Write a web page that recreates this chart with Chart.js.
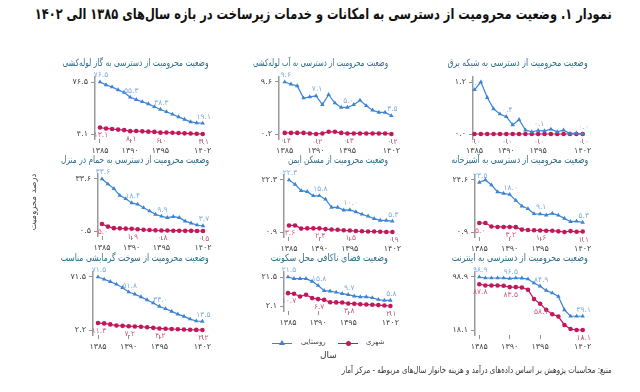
<!DOCTYPE html>
<html lang="fa">
<head>
<meta charset="utf-8">
<script src="https://cdn.jsdelivr.net/npm/chart.js@4.4.0/dist/chart.umd.min.js"></script>
<style>
  body { margin: 0; width: 640px; height: 392px; background: #fff; position: relative; overflow: hidden; font-family: "DejaVu Sans", sans-serif; }
  canvas { position: absolute; }
  .txt { position: absolute; white-space: nowrap; direction: rtl; }
  .ptitle { color: #2b6c86; font-size: 10px; }
  .leg-line { position: absolute; height: 1.3px; width: 20px; }
</style>
</head>
<body>
<div id="root"></div>
<script>
// years and labelled points
const years = [1385, 1386, 1387, 1388, 1389, 1390, 1391, 1392, 1393, 1394, 1395, 1396, 1397, 1398, 1399, 1400, 1401, 1402];
const xTickYears = [1385, 1390, 1395, 1402];
const labelIdx = [0, 5, 10, 17];

// series values (percent deprived), rural / urban
const elecRural = [1.02, 1.2, 0.84, 0.58, 0.46, 0.4, 0.21, 0.33, 0.09, 0.05, 0.08, 0.07, 0.11, 0.05, 0.09, 0.01, 0.02, 0.0];
const elecUrban = [0.0, 0.0, 0.0, 0.0, 0.0, 0.0, 0.0, 0.0, 0.0, 0.0, 0.0, 0.0, 0.0, 0.0, 0.0, 0.0, 0.0, 0.0];
const waterRural = [9.6, 9.2, 8.9, 6.7, 6.9, 7.1, 5.5, 7.3, 5.8, 5.0, 5.0, 5.5, 6.3, 5.3, 4.5, 4.1, 4.1, 3.5];
const waterUrban = [0.4, 0.4, 0.4, 0.4, 0.3, 0.2, 0.3, 0.6, 0.6, 0.4, 0.3, 0.3, 0.3, 0.3, 0.3, 0.3, 0.3, 0.2];
const gasRural = [76.5, 72.5, 69.5, 65.5, 62.0, 55.3, 52.0, 49.0, 46.0, 42.0, 38.3, 35.0, 31.5, 28.0, 24.5, 21.0, 19.5, 19.1];
const gasUrban = [13.1, 11.8, 11.0, 10.2, 9.5, 8.1, 8.3, 7.8, 7.4, 7.0, 6.0, 6.2, 5.8, 5.4, 5.0, 4.7, 4.4, 4.1];
const kitchenRural = [23.5, 24.6, 22.3, 19.2, 18.5, 18.0, 15.3, 12.7, 11.5, 9.2, 9.1, 8.6, 9.4, 8.5, 7.1, 5.6, 5.8, 5.3];
const kitchenUrban = [5.0, 5.0, 3.4, 3.2, 3.2, 3.2, 3.1, 2.0, 1.8, 1.7, 1.6, 1.5, 1.5, 1.2, 0.9, 1.3, 1.0, 1.1];
const safeRural = [22.3, 20.5, 17.9, 17.5, 15.8, 15.8, 14.4, 11.0, 11.0, 9.9, 10.0, 9.2, 8.2, 7.4, 6.4, 5.7, 5.7, 5.3];
const safeUrban = [3.6, 3.6, 2.3, 2.4, 2.4, 2.4, 2.1, 1.9, 1.8, 1.6, 1.5, 1.3, 1.2, 1.1, 1.1, 1.0, 0.9, 0.9];
const bathRural = [33.6, 30.4, 27.5, 23.1, 21.0, 18.4, 17.5, 15.3, 13.2, 11.1, 9.9, 9.0, 9.6, 9.0, 6.8, 5.5, 4.3, 3.7];
const bathUrban = [5.0, 3.3, 2.3, 2.2, 2.0, 1.9, 1.6, 1.3, 1.1, 0.9, 0.8, 0.8, 0.7, 0.7, 0.6, 0.6, 0.5, 0.5];
const netRural = [98.9, 97.4, 97.4, 97.4, 97.3, 96.5, 97.3, 97.2, 95.8, 89.7, 84.9, 78.5, 74.4, 69.3, 48.8, 39.1, 39.1, 39.1];
const netUrban = [87.8, 86.0, 86.0, 86.0, 85.5, 83.5, 83.5, 83.0, 79.5, 65.2, 58.1, 48.8, 42.1, 38.6, 25.8, 19.6, 18.1, 18.1];
const spaceRural = [21.5, 20.4, 20.4, 20.4, 18.6, 15.8, 12.4, 12.0, 11.3, 10.4, 9.7, 8.7, 8.2, 8.2, 7.6, 6.4, 5.8, 5.8];
const spaceUrban = [10.7, 10.3, 8.5, 9.6, 7.4, 6.7, 6.2, 4.6, 4.5, 4.4, 3.8, 3.6, 3.3, 3.1, 2.9, 2.7, 2.4, 2.1];
const heatRural = [71.5, 68.5, 65.5, 62.0, 57.5, 51.8, 49.0, 45.5, 41.5, 37.5, 33.0, 30.0, 26.5, 23.0, 20.0, 16.5, 14.0, 13.5];
const heatUrban = [11.3, 10.8, 9.5, 8.0, 7.6, 7.2, 6.8, 6.5, 5.8, 5.0, 4.2, 3.8, 3.5, 3.2, 2.8, 2.5, 2.3, 2.2];

const panelTitles = [
  'وضعیت محرومیت از دسترسی به شبکه برق',
  'وضعیت محرومیت از دسترسی به آب لوله‌کشی',
  'وضعیت محرومیت از دسترسی به گاز لوله‌کشی',
  'وضعیت محرومیت از دسترسی به آشپزخانه',
  'وضعیت محرومیت از مسکن ایمن',
  'وضعیت محرومیت از دسترسی به حمام در منزل',
  'وضعیت محرومیت از دسترسی به اینترنت',
  'وضعیت فضای ناکافی محل سکونت',
  'وضعیت محرومیت از سوخت گرمایشی مناسب'
];
const seriesRural = [elecRural, waterRural, gasRural, kitchenRural, safeRural, bathRural, netRural, spaceRural, heatRural];
const seriesUrban = [elecUrban, waterUrban, gasUrban, kitchenUrban, safeUrban, bathUrban, netUrban, spaceUrban, heatUrban];

// layout of each panel (pixel positions on the page); tw = title width
const layout = [
  { axis: 473, first: 474.5, last: 582.7, top: 82.3, bot: 134, tr: 588, ty: 65, tw: 140 },
  { axis: 279.3, first: 285, last: 391.7, top: 82.3, bot: 134.3, tr: 388, ty: 65, tw: 135 },
  { axis: 95, first: 100, last: 202.7, top: 82.3, bot: 134.3, tr: 209, ty: 65, tw: 146 },
  { axis: 475, first: 479.3, last: 582.7, top: 180, bot: 231.7, tr: 588, ty: 162, tw: 137 },
  { axis: 284.3, first: 289.3, last: 392.7, top: 180, bot: 231.7, tr: 388, ty: 162, tw: 100 },
  { axis: 97.7, first: 101.7, last: 202.7, top: 179.3, bot: 231.7, tr: 209, ty: 162, tw: 148 },
  { axis: 475, first: 479.3, last: 582.7, top: 277.3, bot: 330, tr: 588, ty: 260, tw: 136 },
  { axis: 284.3, first: 288.3, last: 390.7, top: 277.3, bot: 306.7, tr: 388, ty: 260, tw: 117 },
  { axis: 93.3, first: 98.3, last: 202.7, top: 277.3, bot: 330, tr: 209, ty: 260, tw: 148 }
];

const RURAL = '#3c84d3';
const URBAN = '#c2185b';
const RURAL_LBL = '#7eaee0';
const URBAN_LBL = '#cc5a86';

const faDigits = '۰۱۲۳۴۵۶۷۸۹';
function fa(s) { return String(s).replace(/\d/g, d => faDigits[d]); }
function fa1(v) { return fa(Number(v).toFixed(1)); }

Chart.defaults.font.family = '"DejaVu Sans", sans-serif';

const valueLabels = {
  id: 'valueLabels',
  afterDatasetsDraw(chart) {
    const ctx = chart.ctx;
    chart.data.datasets.forEach((ds, i) => {
      const meta = chart.getDatasetMeta(i);
      labelIdx.forEach(k => {
        const pt = meta.data[k];
        ctx.save();
        ctx.font = '7.5px "DejaVu Sans"';
        ctx.fillStyle = ds.labelColor;
        ctx.textAlign = 'center';
        ctx.textBaseline = 'middle';
        ctx.fillText(fa1(ds.data[k].y), pt.x + 1, pt.y + ds.labelDy);
        ctx.restore();
      });
    });
  }
};

const root = document.getElementById('root');

function addText(html, css, cls) {
  const d = document.createElement('div');
  d.className = 'txt ' + (cls || '');
  d.innerHTML = html;
  Object.assign(d.style, css);
  root.appendChild(d);
  return d;
}

// squeeze a right-anchored text block to a target width
function fitWidth(el, target) {
  const w = el.getBoundingClientRect().width;
  if (w > 0) {
    el.style.transformOrigin = 'right center';
    el.style.transform = 'scaleX(' + (target / w) + ')';
  }
}

function makePanel(i) {
  const p = layout[i];
  const rural = seriesRural[i], urban = seriesUrban[i];
  const all = rural.concat(urban);
  const lo = Math.min(...all), hi = Math.max(...all);

  const yw = 40, xh = 22, padTop = 14, padRight = 14;
  const areaTop = p.top - 5, areaBottom = p.bot + 5, areaRight = p.last + 3;
  const left = p.axis - yw;
  const w = Math.round(areaRight - left + padRight);
  const h = Math.round(padTop + (areaBottom - areaTop) + xh);

  const canvas = document.createElement('canvas');
  canvas.width = w;
  canvas.height = h;
  canvas.style.width = w + 'px';
  canvas.style.height = h + 'px';
  canvas.style.left = left + 'px';
  canvas.style.top = (areaTop - padTop) + 'px';
  root.appendChild(canvas);

  const realRight = w - padRight;
  const ppy = (p.last - p.first) / 17;
  const xmin = 1385 - (p.first - p.axis) / ppy;
  const xmax = 1385 + (realRight - yw - (p.first - p.axis)) / ppy;
  const plotH = h - padTop - xh;
  const ppu = (plotH - 10) / (hi - lo);
  const ymin = lo - 5 / ppu, ymax = hi + 5 / ppu;

  new Chart(canvas.getContext('2d'), {
    type: 'line',
    data: {
      datasets: [
        {
          label: 'روستایی',
          data: years.map((y, k) => ({ x: y, y: rural[k] })),
          borderColor: RURAL,
          backgroundColor: RURAL,
          borderWidth: 1.2,
          pointStyle: 'triangle',
          pointRadius: 2.6,
          pointBorderWidth: 0,
          tension: 0,
          clip: false,
          labelColor: RURAL_LBL,
          labelDy: -6.5
        },
        {
          label: 'شهری',
          data: years.map((y, k) => ({ x: y, y: urban[k] })),
          borderColor: URBAN,
          backgroundColor: URBAN,
          borderWidth: 1.2,
          pointStyle: 'circle',
          pointRadius: 2.3,
          pointBorderWidth: 0,
          tension: 0,
          clip: false,
          labelColor: URBAN_LBL,
          labelDy: 8
        }
      ]
    },
    options: {
      responsive: false,
      animation: false,
      layout: { padding: { top: padTop, right: padRight, left: 0, bottom: 0 } },
      plugins: { legend: { display: false }, tooltip: { enabled: false } },
      scales: {
        x: {
          type: 'linear',
          min: xmin,
          max: xmax,
          afterBuildTicks: s => { s.ticks = xTickYears.map(v => ({ value: v })); },
          afterFit: s => { s.height = xh; s.paddingLeft = 0; s.paddingRight = 0; },
          ticks: {
            callback: v => fa(v),
            font: { size: 8 },
            color: '#444',
            maxRotation: 0,
            autoSkip: false,
            padding: 3
          },
          grid: { drawOnChartArea: false, drawTicks: true, tickLength: 4, color: '#777', lineWidth: 0.8 },
          border: { display: false }
        },
        y: {
          min: ymin,
          max: ymax,
          afterBuildTicks: s => { s.ticks = [{ value: lo }, { value: hi }]; },
          afterFit: s => { s.width = yw; s.paddingTop = 0; s.paddingBottom = 0; },
          ticks: {
            callback: v => fa1(v),
            font: { size: 8 },
            color: '#444',
            padding: 3
          },
          grid: { drawOnChartArea: false, drawTicks: true, tickLength: 4, color: '#777', lineWidth: 0.8 },
          border: { display: true, color: '#999', width: 1.5 }
        }
      }
    },
    plugins: [valueLabels]
  });

  const t = addText(panelTitles[i], { right: (640 - p.tr) + 'px', top: (p.ty - 8) + 'px' }, 'ptitle');
  fitWidth(t, p.tw);
}

for (let i = 0; i < 9; i++) makePanel(i);

// main title
const mt = addText('نمودار ۱. وضعیت محرومیت از دسترسی به امکانات و خدمات زیرساخت در بازه سال‌های ۱۳۸۵ الی ۱۴۰۲',
  { right: '28px', top: '5px', fontSize: '15px', fontWeight: 'bold', color: '#111' });
fitWidth(mt, 577);

// y axis title
const yt = addText('درصد محرومیت', { left: '33px', top: '202px', fontSize: '8.5px', color: '#444' });
yt.style.transform = 'translate(-50%, -50%) rotate(-90deg)';

// x axis title
addText('سال', { left: '320px', top: '350px', fontSize: '9px', color: '#333' });

// source
const src = addText('منبع: محاسبات پژوهش بر اساس داده‌های درآمد و هزینه خانوار سال‌های مربوطه - مرکز آمار',
  { right: '28px', top: '365px', fontSize: '9px', color: '#333' });
fitWidth(src, 270);

// legend
function legendItem(x, color, marker, text, textX) {
  const line = document.createElement('div');
  line.className = 'leg-line';
  Object.assign(line.style, { left: x + 'px', top: '343px', background: color });
  root.appendChild(line);
  const m = document.createElement('div');
  m.style.position = 'absolute';
  if (marker === 'triangle') {
    Object.assign(m.style, { left: (x + 7) + 'px', top: '340px', width: 0, height: 0,
      borderLeft: '3px solid transparent', borderRight: '3px solid transparent', borderBottom: '5px solid ' + color });
  } else {
    Object.assign(m.style, { left: (x + 7.5) + 'px', top: '341px', width: '5px', height: '5px', borderRadius: '50%', background: color });
  }
  root.appendChild(m);
  addText(text, { left: textX + 'px', top: '338px', fontSize: '7px', color: '#444' });
}
legendItem(272, RURAL, 'triangle', 'روستایی', 301);
legendItem(338, URBAN, 'circle', 'شهری', 366);
</script>
</body>
</html>
